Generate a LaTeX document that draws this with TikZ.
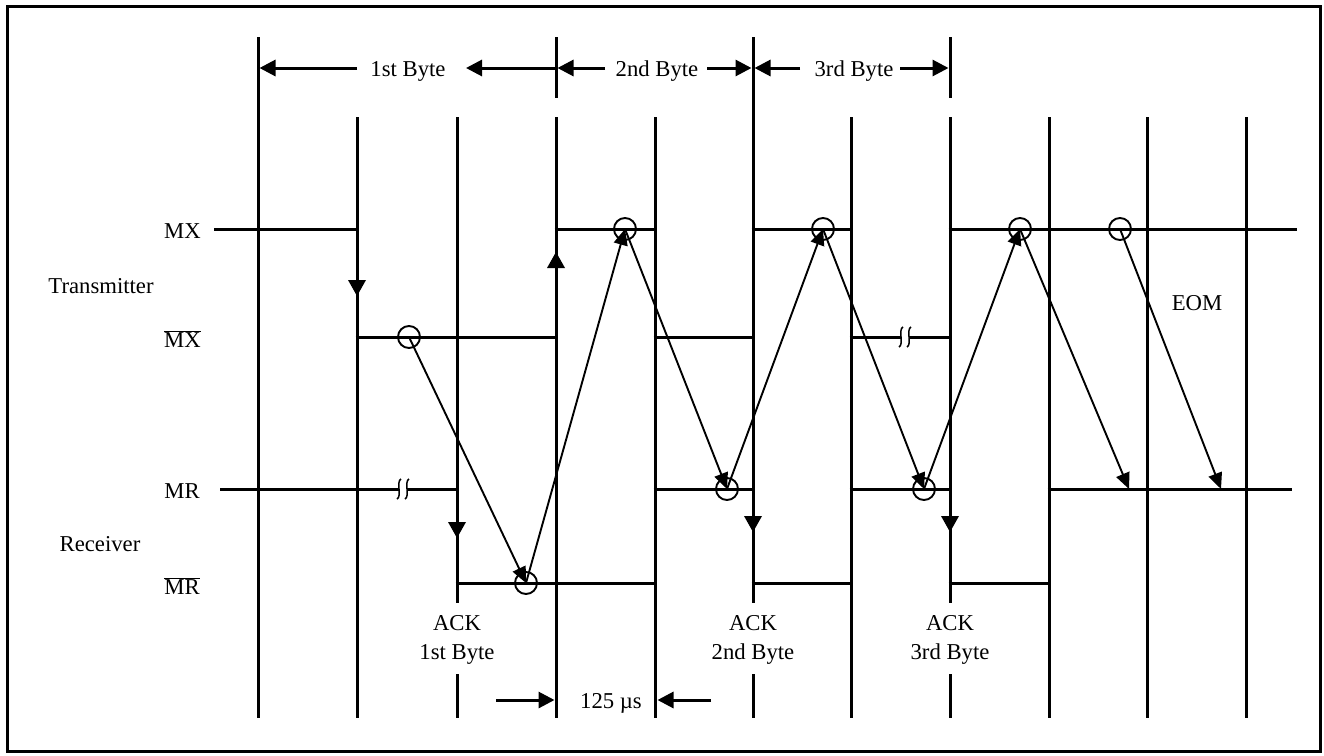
\documentclass[tikz,border=0pt]{standalone}
\usepackage{fontspec}
\setmainfont{Liberation Serif}
\usetikzlibrary{arrows.meta}
\newcommand\ovl[1]{\ensuremath{\overline{\hbox{#1}}}}
\tikzset{
  wire/.style={line width=3pt},
  sig/.style={line width=1.9pt, -{Triangle[length=16pt,width=14pt]}},
  dim/.style={line width=3pt, -{Triangle[length=16pt,width=16pt]}},
  circ/.style={circle, draw, line width=1.9pt, minimum size=22pt, inner sep=0pt},
  lbl/.style={font=\fontsize{22.7}{29}\selectfont, inner sep=0pt, anchor=base},
  two/.style={lbl, align=center, anchor=north},
  brk/.style={line width=1.5pt},
}
\begin{document}
\begin{tikzpicture}[x=1pt,y=-1pt]
\useasboundingbox (0,0) rectangle (1324,755);
\draw[wire] (7.5,6.5) rectangle (1320,751);

% vertical lines
\draw[wire] (258,37) -- (258,718);
\draw[wire] (556,37) -- (556,98) (556,117) -- (556,718);
\draw[wire] (753,37) -- (753,603) (753,674) -- (753,718);
\draw[wire] (950,37) -- (950,98) (950,117) -- (950,603) (950,674) -- (950,718);
\draw[wire] (357,117) -- (357,718);
\draw[wire] (457,117) -- (457,603) (457,674) -- (457,718);
\foreach \x in {655,851,1049,1147,1246} \draw[wire] (\x,117) -- (\x,718);

% horizontal signal levels
\draw[wire] (214,229) -- (358.5,229) (554.5,229) -- (656.5,229) (751.5,229) -- (852.5,229) (948.5,229) -- (1297,229);
\draw[wire] (355.5,337) -- (557.5,337) (653.5,337) -- (754.5,337) (849.5,337) -- (951.5,337);
\draw[wire] (220,489) -- (458.5,489) (653.5,489) -- (754.5,489) (849.5,489) -- (951.5,489) (1047.5,489) -- (1292,489);
\draw[wire] (455.5,583) -- (656.5,583) (751.5,583) -- (852.5,583) (948.5,583) -- (1050.5,583);

% break marks
\foreach \bx/\by in {403/489, 905/337}{
  \fill[white] (\bx-4,\by-4) rectangle (\bx+4,\by+4);
  \draw[brk] (\bx-2,\by-10) .. controls (\bx-7,\by-8) and (\bx-1,\by+8) .. (\bx-6,\by+10);
  \draw[brk] (\bx+6,\by-10) .. controls (\bx+1,\by-8) and (\bx+7,\by+8) .. (\bx+2,\by+10);
}

% arrowheads on vertical lines
\fill (348,280) -- (366,280) -- (357,296) -- cycle;
\fill (547,268) -- (565,268) -- (556,252) -- cycle;
\fill (448,522) -- (466,522) -- (457,538) -- cycle;
\fill (744,516) -- (762,516) -- (753,532) -- cycle;
\fill (941,516) -- (959,516) -- (950,532) -- cycle;

% circles
\node[circ] (c1) at (409,337) {};
\node[circ] (c2) at (526,583) {};
\node[circ] (c3) at (625,229) {};
\node[circ] (c4) at (727,489) {};
\node[circ] (c5) at (823,229) {};
\node[circ] (c6) at (924,489) {};
\node[circ] (c7) at (1020,229) {};
\node[circ] (c8) at (1120,229) {};
\coordinate (e1) at (1129,489);
\coordinate (e2) at (1221,489);

\draw[sig] (c1.center) -- (c2.center);
\draw[sig] (c2.center) -- (c3.center);
\draw[sig] (c3.center) -- (c4.center);
\draw[sig] (c4.center) -- (c5.center);
\draw[sig] (c5.center) -- (c6.center);
\draw[sig] (c6.center) -- (c7.center);
\draw[sig] (c7.center) -- (e1);
\draw[sig] (c8.center) -- (e2);

% byte dimension arrows
\node[lbl] (b1) at (408,76) {1st Byte};
\node[lbl] (b2) at (657,76) {2nd Byte};
\node[lbl] (b3) at (854,76) {3rd Byte};
\coordinate (d1a) at (357,68); \coordinate (d1b) at (259.5,68);
\coordinate (d1c) at (556,68); \coordinate (d1d) at (466,68);
\coordinate (d2a) at (605,68); \coordinate (d2b) at (557.5,68);
\coordinate (d2c) at (707,68); \coordinate (d2d) at (751.5,68);
\coordinate (d3a) at (800,68); \coordinate (d3b) at (754.5,68);
\coordinate (d3c) at (900,68); \coordinate (d3d) at (948.5,68);
\draw[dim] (d1a) -- (d1b);
\draw[dim] (d1c) -- (d1d);
\draw[dim] (d2a) -- (d2b);
\draw[dim] (d2c) -- (d2d);
\draw[dim] (d3a) -- (d3b);
\draw[dim] (d3c) -- (d3d);

% 125 us
\node[lbl] (t125) at (611,708) {125 µs};
\coordinate (u1) at (496,700); \coordinate (u2) at (554.5,700);
\coordinate (u3) at (711,700); \coordinate (u4) at (657.5,700);
\draw[dim] (u1) -- (u2);
\draw[dim] (u3) -- (u4);

% labels
\node[lbl, anchor=base east] (lmx) at (201,238) {MX};
\node[lbl, anchor=base east] (lmxb) at (201,347) {\ovl{MX}};
\node[lbl, anchor=base east] (lmr) at (200,498) {MR};
\node[lbl, anchor=base east] (lmrb) at (200,594) {\ovl{MR}};
\node[lbl] (ltx) at (101,293) {Transmitter};
\node[lbl] (lrx) at (100,551) {Receiver};
\node[lbl] (eom) at (1197,310) {EOM};
\node[two] (a1) at (457,615) {ACK\\1st Byte};
\node[two] (a2) at (753,615) {ACK\\2nd Byte};
\node[two] (a3) at (950,615) {ACK\\3rd Byte};
\end{tikzpicture}
\end{document}
